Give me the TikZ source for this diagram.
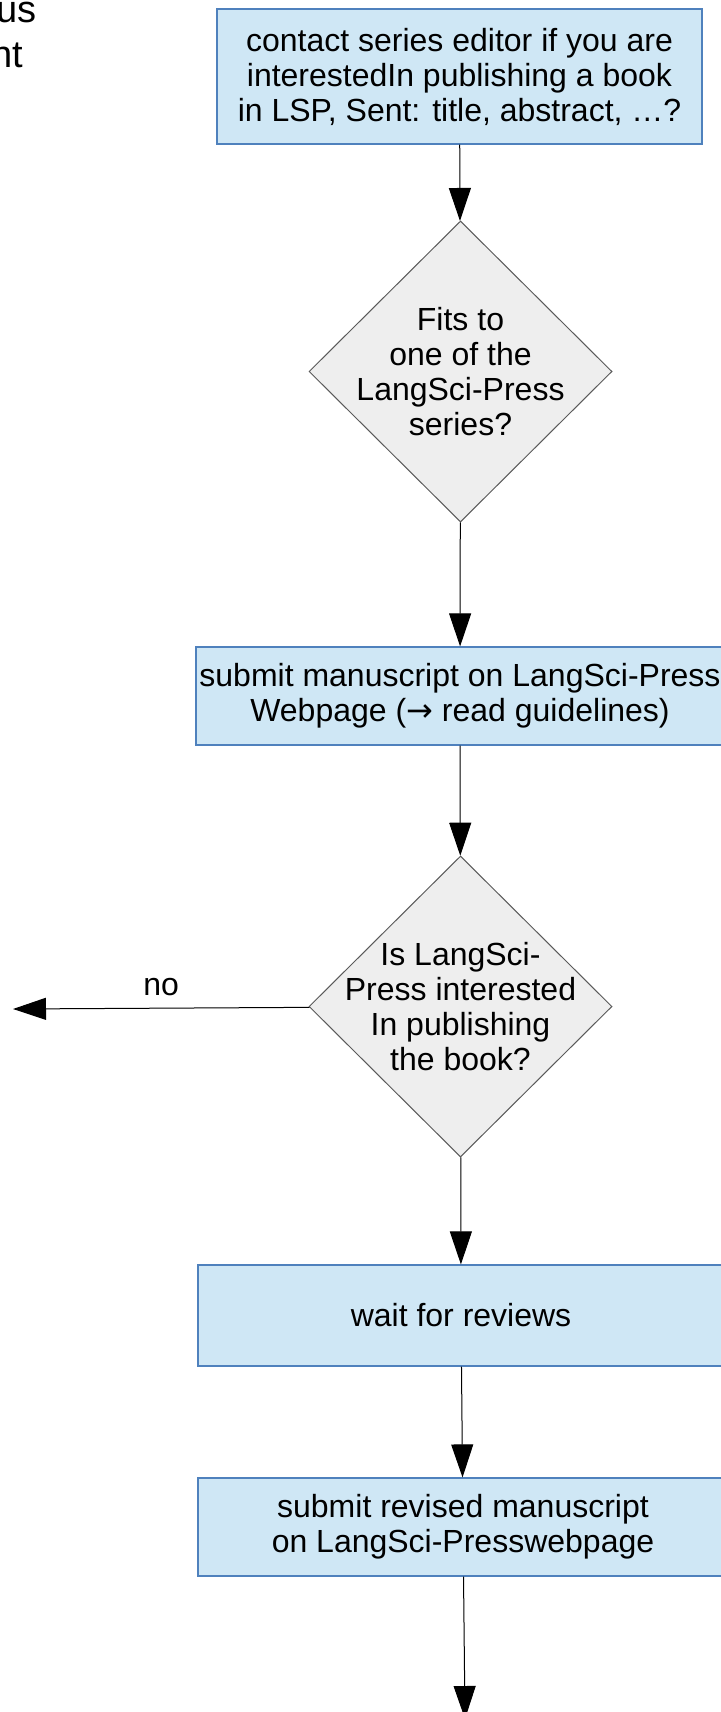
\documentclass[tikz,border=0pt]{standalone}
\usepackage{fontspec}
\setmainfont{Liberation Sans}
\newfontfamily\arrowfont{DejaVu Sans}
\usepackage{xcolor}
\usetikzlibrary{shapes.geometric,arrows.meta}
\definecolor{boxblue}{RGB}{207,231,245}
\definecolor{boxline}{RGB}{79,129,189}
\definecolor{diagray}{RGB}{238,238,238}
\definecolor{dialine}{RGB}{90,90,90}

\begin{document}
\begin{tikzpicture}[x=0.5pt,y=-0.5pt,
            every node/.style={font=\fontsize{16pt}{17.5pt}\selectfont},
            procbox/.style={draw=boxline,fill=boxblue,line width=0.6pt,align=center,inner sep=0pt},
            decision/.style={diamond,draw=dialine,fill=diagray,line width=0.5pt,inner sep=0pt,
                minimum width=151.5pt,minimum height=150.5pt},
            flowarrow/.style={-{Triangle[length=16.5pt,width=11pt]},line width=0.5pt},
            cuttext/.style={anchor=base east,inner sep=0pt,font=\fontsize{19pt}{21pt}\selectfont}]
            \useasboundingbox (0,0) rectangle (721,1712);
            \node [cuttext] (cutus) at (37,23) {us};
            \node [cuttext] (cutnt) at (23.5,68) {nt};
            \node [procbox, minimum width=242.5pt, minimum height=67.5pt] (contact) at (459.5,76.5)
                {contact series editor if you are\\interestedIn publishing a book\\in LSP, Sent: title, abstract, …?};
            \node [decision] (fits) at (460.5,371.5) {};
            \node [align=center] (fitstext) at (fits) {Fits to\\one of the\\LangSci-Press\\series?};
            \node [procbox, minimum width=264pt, minimum height=49pt] (submit) at (460,696)
                {submit manuscript on LangSci-Press\\Webpage ({\arrowfont →} read guidelines)};
            \node [decision] (interested) at (460.5,1006.5) {};
            \node [align=center] (interestedtext) at (interested) {Is LangSci-\\Press interested\\In publishing\\the book?};
            \node [procbox, minimum width=263pt, minimum height=50.5pt] (wait) at (461,1315.5) {wait for reviews};
            \node [procbox, minimum width=265pt, minimum height=49pt] (revised) at (463,1527)
                {submit revised manuscript\\on LangSci-Presswebpage};
            \coordinate (rejected) at (13,1009);
            \coordinate (next) at (465,1719);
            \draw [flowarrow] (contact) -- (fits);
            \draw [flowarrow] (fits) -- (submit);
            \draw [flowarrow] (submit) -- (interested);
            \draw [flowarrow] (interested) -- node [above=2.5pt, pos=0.5] (notext) {no} (rejected);
            \draw [flowarrow] (interested) -- (wait);
            \draw [flowarrow] (wait) -- (revised);
            \draw [flowarrow] (revised) -- (next);
        \end{tikzpicture}
\end{document}
